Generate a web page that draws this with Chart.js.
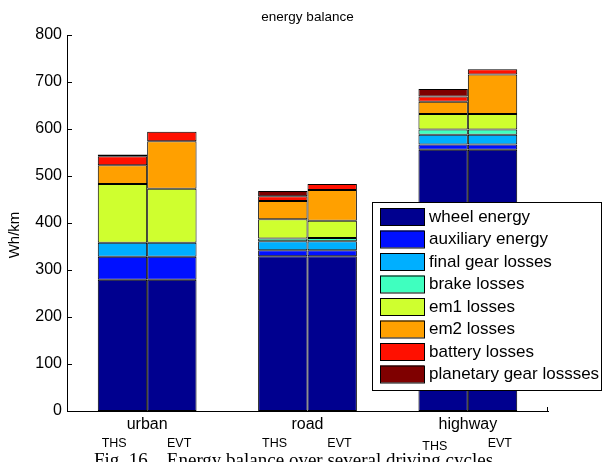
<!DOCTYPE html>
<html>
<head>
<meta charset="utf-8">
<script src="https://cdn.jsdelivr.net/npm/chart.js@4.4.0/dist/chart.umd.min.js"></script>
<style>
html,body{margin:0;padding:0;background:#fff;}
canvas{display:block;}
</style>
</head>
<body>
<canvas id="c" width="602" height="462"></canvas>
<script>
const categories = ['urban', 'road', 'highway'];
const configs = ['THS', 'EVT'];
const components = ['wheel energy', 'auxiliary energy', 'final gear losses', 'brake losses',
  'em1 losses', 'em2 losses', 'battery losses', 'planetary gear lossses'];
const colors = ['#00008F', '#0010FF', '#00AFFF', '#3FFFBF', '#CFFF2F', '#FFA000', '#FF1000', '#7F0000'];
const yTicks = [0, 100, 200, 300, 400, 500, 600, 700, 800];

// values in Wh/km: [urban, road, highway]
const wheelTHS = [279, 329, 556];
const wheelEVT = [279, 329, 556];
const auxTHS = [49, 13, 11];
const auxEVT = [49, 13, 11];
const finalGearTHS = [30, 19, 21];
const finalGearEVT = [30, 19, 21];
const brakeTHS = [0, 6, 11];
const brakeEVT = [0, 7, 11];
const em1THS = [125, 41, 33];
const em1EVT = [115, 37, 33];
const em2THS = [40, 39, 26];
const em2EVT = [101, 65, 84];
const batteryTHS = [19, 10, 11];
const batteryEVT = [20, 13, 11];
const planetaryTHS = [4, 11, 16];
const planetaryEVT = [0, 0, 0];

const thsSeries = [wheelTHS, auxTHS, finalGearTHS, brakeTHS, em1THS, em2THS, batteryTHS, planetaryTHS];
const evtSeries = [wheelEVT, auxEVT, finalGearEVT, brakeEVT, em1EVT, em2EVT, batteryEVT, planetaryEVT];

const FONT = 'Liberation Sans, Arial, sans-serif';

const datasets = [];
components.forEach((name, i) => {
  datasets.push({label: name, stack: 'THS', data: thsSeries[i], backgroundColor: colors[i],
    borderColor: '#000', borderWidth: 1, borderSkipped: false, barPercentage: 1, categoryPercentage: 0.616});
  datasets.push({label: name, stack: 'EVT', data: evtSeries[i], backgroundColor: colors[i],
    borderColor: '#000', borderWidth: 1, borderSkipped: false, barPercentage: 1, categoryPercentage: 0.616});
});

const extras = {
  id: 'extras',
  afterDraw(chart) {
    const ctx = chart.ctx;
    const ca = chart.chartArea;
    const xs = chart.scales.x, ys = chart.scales.y;
    ctx.save();
    // inward y ticks
    ctx.strokeStyle = '#000';
    ctx.lineWidth = 1;
    yTicks.forEach(v => {
      const y = Math.round(ys.getPixelForValue(v)) + 0.5;
      ctx.beginPath();
      ctx.moveTo(ca.left, y);
      ctx.lineTo(ca.left + 5, y);
      ctx.stroke();
    });
    // right end tick on x axis
    ctx.beginPath();
    ctx.moveTo(ca.right - 0.5, ca.bottom);
    ctx.lineTo(ca.right - 0.5, ca.bottom - 4);
    ctx.stroke();

    ctx.fillStyle = '#000';
    // title
    ctx.font = '13.5px ' + FONT;
    ctx.textAlign = 'center';
    ctx.textBaseline = 'middle';
    ctx.fillText('energy balance', (ca.left + ca.right) / 2, 17);

    // y axis label
    ctx.save();
    ctx.translate(15, (ca.top + ca.bottom) / 2 + 12);
    ctx.rotate(-Math.PI / 2);
    ctx.font = '15px ' + FONT;
    ctx.fillText('Wh/km', 0, 0);
    ctx.restore();

    // THS / EVT labels
    ctx.font = '12.5px ' + FONT;
    categories.forEach((c, i) => {
      const cx = xs.getPixelForValue(i);
      const dy = i === 2 ? 3 : 0;
      ctx.fillText(configs[0], cx - 33, 444 + dy);
      ctx.fillText(configs[1], cx + 32, 444);
    });

    // legend box
    const lx = 372, ly = 202, lw = 229, lh = 188;
    ctx.fillStyle = '#fff';
    ctx.fillRect(lx, ly, lw, lh);
    ctx.strokeStyle = '#000';
    ctx.strokeRect(lx + 0.5, ly + 0.5, lw, lh);
    ctx.font = '17px ' + FONT;
    ctx.textAlign = 'left';
    components.forEach((name, i) => {
      const ry = 208 + i * 22.5;
      ctx.fillStyle = colors[i];
      ctx.fillRect(380, ry, 44, 17);
      ctx.strokeStyle = '#000';
      ctx.strokeRect(380.5, ry + 0.5, 44, 17);
      ctx.fillStyle = '#000';
      ctx.fillText(name, 429, ry + 9);
    });

    // caption (cut off at bottom)
    ctx.font = '19px Liberation Serif, Times New Roman, serif';
    ctx.textAlign = 'left';
    ctx.textBaseline = 'top';
    ctx.fillText('Fig. 16.   Energy balance over several driving cycles', 94, 452);
    ctx.restore();
  }
};

new Chart(document.getElementById('c'), {
  type: 'bar',
  data: {labels: categories, datasets: datasets},
  options: {
    responsive: false,
    animation: false,
    layout: {padding: {top: 35, right: 54, bottom: 0, left: 0}},
    plugins: {legend: {display: false}, title: {display: false}, tooltip: {enabled: false}},
    scales: {
      x: {
        stacked: true,
        grid: {display: false, drawTicks: false},
        border: {display: true, color: '#000', width: 1},
        ticks: {color: '#000', font: {family: FONT, size: 16}, padding: 4, maxRotation: 0},
        afterFit: s => { s.height = 51; }
      },
      y: {
        stacked: true,
        min: 0, max: 800,
        grid: {display: false, drawTicks: false},
        border: {display: true, color: '#000', width: 1},
        ticks: {stepSize: 100, color: '#000', font: {family: FONT, size: 16}, padding: 5},
        afterFit: s => { s.width = 67; }
      }
    }
  },
  plugins: [extras]
});
</script>
</body>
</html>
